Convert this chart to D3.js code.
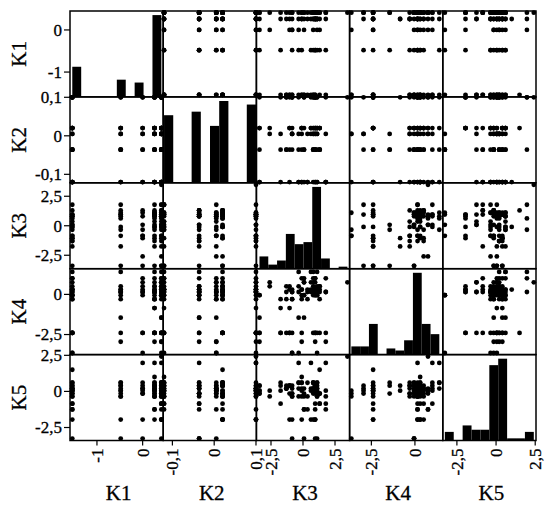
<!DOCTYPE html>
<html><head><meta charset="utf-8">
<script src="https://cdn.jsdelivr.net/npm/d3@7"></script>
<style>body{margin:0;background:#fff}svg{display:block}</style>
</head><body><svg id="c" width="551" height="511"></svg>
<script>
const varNames = ["K1","K2","K3","K4","K5"];

const K1 = [0.41,0.41,0.41,0.41,0.41,0.41,0.41,0.41,0.41,0.41,
  0.41,0.41,0.41,0.41,0.41,0.41,0.41,0.41,0.41,0.41,
  0.41,0.41,0.41,0.41,0.41,0.41,0.41,0.41,0.41,0.41,
  0.41,0.41,0.41,0.41,0.41,0.26,0.26,0.26,0.26,0.26,
  0.26,0.26,0.26,0.26,0.26,0.26,0.26,0.26,0.26,0.26,
  0.26,0.26,0.26,0.26,0.26,0.26,0.26,0,0,0,
  0,0,0,0,0,0,0,-0.48,-0.48,-0.48,
  -0.48,-0.48,-0.48,-0.48,-0.48,-0.48,-0.48,-0.48,-0.48,-1.54,
  -1.54,-1.54,-1.54,-1.54,-1.54,-1.54,-1.54,-1.54,-1.54,-1.54,
  -1.54,-1.54,-1.54,-1.54,-1.54,-1.54,-1.54,-1.54,-1.54,-1.54];

const K2 = [0.1,0.1,0.1,0.1,0.1,0.1,0.1,0.1,0.02,0.02,
  0.02,0.02,0.02,0.02,0.02,0.02,0.005,0.005,0.005,0.005,
  0.005,0.005,-0.036,-0.036,-0.036,-0.036,-0.036,-0.036,-0.036,-0.12,
  -0.12,-0.12,-0.12,-0.12,-0.12,0.1,0.1,0.1,0.1,0.1,
  0.02,0.02,0.02,0.02,0.02,0.005,0.005,0.005,0.005,-0.036,
  -0.036,-0.036,-0.036,-0.12,-0.12,-0.12,-0.12,0.1,0.1,0.02,
  0.02,0.005,0.005,-0.036,-0.036,-0.12,-0.12,0.1,0.1,0.02,
  0.02,0.02,0.005,0.005,-0.036,-0.036,-0.036,-0.12,-0.12,0.1,
  0.1,0.1,0.1,0.1,0.02,0.02,0.02,0.02,0.02,0.005,
  0.005,-0.036,-0.036,-0.036,-0.036,-0.12,-0.12,-0.12,-0.12,-0.12];

const K3 = [3.47,0.95,1.1,-3.4,0.8,1.78,-0.85,0.08,0.95,1.3,
  -1.05,0.62,1.1,-0.1,0.95,-2.6,0.8,1.1,-0.34,0.95,
  -1.75,0.35,1.3,0.95,-0.85,0.8,1.1,-1.3,0.08,0.95,
  -3.4,1.78,0.8,-0.1,1.1,0.95,-1.05,1.1,0.62,-0.34,
  0.8,1.3,-3.4,0.95,0.08,1.1,-0.85,0.95,1.78,0.8,
  -0.1,0.95,-1.3,1.1,0.35,-1.75,-0.1,-0.85,0.8,-3.4,
  1.1,-0.85,-2.6,-0.34,1.3,-1.05,0.08,0.95,-1.75,1.1,
  -0.85,0.62,-0.1,0.8,1.3,-3.4,0.95,-0.34,1.78,0.95,
  -1.3,-1.3,-0.85,0.08,0.8,-0.1,1.3,-1.05,-0.1,0.62,
  -0.85,-1.05,-1.75,0.08,0.8,-3.4,1.78,0.35,-0.34,0.95];

const K4 = [0.75,0.15,0.3,-2.95,-2.4,1.0,0.3,-0.05,0.15,0.5,
  -2.4,0.75,1.4,-2.4,-0.05,0.5,0.3,-3.65,-1.45,0.75,
  -0.3,0.15,0.3,-2.95,0.15,1.0,-0.05,0.5,-1.45,0.3,
  -2.4,0.15,0.75,-0.05,0.3,0.15,-0.85,-2.4,1.4,0.5,
  0.15,-0.3,-2.4,-2.4,0.75,-0.05,0.15,1.0,-2.95,0.3,
  -0.3,0.15,-2.4,0.5,-0.3,-0.85,0.3,-2.4,0.15,-0.05,
  0.3,-3.65,0.75,0.15,0.5,-2.4,1.0,0.3,-2.4,0.15,
  -0.3,0.3,-2.95,0.5,0.15,-1.45,-0.05,1.4,0.15,-2.4,
  -0.3,0.15,-3.65,0.75,-0.05,0.3,-2.4,0.5,1.0,0.15,
  -0.3,0.3,-2.4,-0.05,1.4,-0.05,-2.4,0.3,-3.65,1.0];

const K5 = [2.41,-1.95,0.2,-0.15,0.05,1.97,-1.95,-0.35,0.4,-0.85,
  -0.15,0.05,0.6,-1.95,0.4,-0.35,0.2,0.05,0.6,-0.15,
  0.4,-1.25,-0.85,0.4,-0.35,0.6,-3.27,0.2,-0.15,0.4,
  0.05,-0.85,0.2,0.6,-0.15,0.05,0.4,-0.35,1.97,0.2,
  0.6,-0.15,0.4,-1.95,-1.25,0.2,-0.35,0.4,0.05,-0.15,
  0.6,-1.25,0.2,0.4,-0.35,0.05,1.0,0.2,-1.95,-0.15,
  0.6,-3.27,0.05,1.97,-0.15,0.4,0.2,0.05,0.6,-0.35,
  0.4,-1.95,0.2,0.05,-0.15,0.4,-3.27,0.6,-0.35,0.05,
  0.2,0.4,-0.15,-1.25,0.6,-0.35,1.5,-1.95,0.05,0.2,
  -0.15,0.4,-0.85,-3.27,0.2,0.05,-1.25,0.6,-0.35,-0.85];

// axis ranges and tick labels per variable
const axisRanges = [[-1.59,0.45],[-0.122,0.101],[-3.64,3.64],[-3.75,1.6],[-3.4,2.55]];
const tickValues = [[-1,0],[-0.1,0,0.1],[-2.5,0,2.5],[-2.5,0],[-2.5,0,2.5]];

const series = [K1,K2,K3,K4,K5];
const n = series.length;
const L = 70, T = 11, CW = 93.2, CH = 85.9;
const B = T + n*CH;

const loc = d3.formatLocale({decimal:",", thousands:".", grouping:[3], currency:["",""], minus:"-"});
const fmt = loc.format("~g");

const svg = d3.select("#c");
svg.append("rect").attr("width",551).attr("height",511).attr("fill","#fff");

const xs = axisRanges.map((d,j)=>d3.scaleLinear().domain(d).range([L+j*CW, L+(j+1)*CW]));
const ys = axisRanges.map((d,i)=>d3.scaleLinear().domain(d).range([T+(i+1)*CH, T+i*CH]));

const font = "'Liberation Serif','Times New Roman',serif";

// histograms on diagonal
for (let k=0;k<n;k++){
  const vals = series[k];
  const ext = d3.extent(vals);
  const th = d3.range(1,10).map(t=>ext[0]+t*(ext[1]-ext[0])/10);
  const bins = d3.bin().domain(ext).thresholds(th)(vals);
  const maxC = d3.max(bins,b=>b.length);
  const hy = d3.scaleLinear().domain([0,maxC*1.05]).range([T+(k+1)*CH, T+k*CH]);
  svg.append("g").selectAll("rect").data(bins.filter(b=>b.length>0)).join("rect")
    .attr("x",b=>xs[k](b.x0)).attr("width",b=>Math.max(0,xs[k](b.x1)-xs[k](b.x0)))
    .attr("y",b=>hy(b.length)).attr("height",b=>hy(0)-hy(b.length))
    .attr("fill","#000");
}

// cell frames
for (let i=0;i<n;i++) for (let j=0;j<n;j++){
  svg.append("rect").attr("x",L+j*CW).attr("y",T+i*CH).attr("width",CW).attr("height",CH)
    .attr("fill","none").attr("stroke","#000").attr("stroke-width",1.5);
}

// scatter points
const idx = d3.range(K1.length);
for (let i=0;i<n;i++) for (let j=0;j<n;j++){
  if (i===j) continue;
  svg.append("g").selectAll("circle").data(idx).join("circle")
    .attr("cx",r=>xs[j](series[j][r])).attr("cy",r=>ys[i](series[i][r]))
    .attr("r",2.4).attr("fill","#000");
}

function styleText(t,size){
  return t.attr("font-family",font).attr("font-size",size)
    .attr("fill","#000").attr("stroke","#000").attr("stroke-width",0.3);
}

// left axes
for (let i=0;i<n;i++){
  const g = svg.append("g");
  tickValues[i].forEach(v=>{
    const y = ys[i](v);
    g.append("line").attr("x1",L-6).attr("x2",L).attr("y1",y).attr("y2",y).attr("stroke","#000").attr("stroke-width",1.2);
    styleText(g.append("text").attr("x",L-8).attr("y",y).attr("dy","0.35em").attr("text-anchor","end"),17).text(fmt(v));
  });
  styleText(svg.append("text").attr("transform",`translate(19,${T+(i+0.5)*CH}) rotate(-90)`)
    .attr("dy","0.35em").attr("text-anchor","middle"),21).text(varNames[i]);
}

// bottom axes
for (let j=0;j<n;j++){
  const g = svg.append("g");
  tickValues[j].forEach(v=>{
    const x = xs[j](v);
    g.append("line").attr("x1",x).attr("x2",x).attr("y1",B).attr("y2",B+5).attr("stroke","#000").attr("stroke-width",1.2);
    styleText(g.append("text").attr("transform",`translate(${x},${B+8}) rotate(-90)`).attr("dy","0.35em")
      .attr("text-anchor","end"),17).text(fmt(v));
  });
  styleText(svg.append("text").attr("x",L+(j+0.5)*CW+2).attr("y",500).attr("text-anchor","middle"),21)
    .text(varNames[j]);
}
</script></body></html>
